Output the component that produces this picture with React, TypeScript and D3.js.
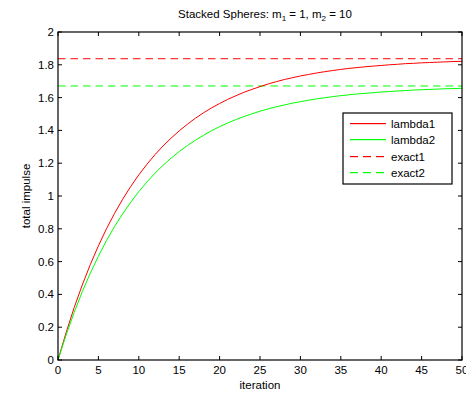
import React from "react";
import * as d3 from "d3";

const iterations = d3.range(0, 51);
const lambda1 = [0, 0.167, 0.319, 0.457, 0.582, 0.696, 0.800, 0.894, 0.980, 1.058, 1.129, 1.193, 1.252, 1.305, 1.353, 1.397, 1.437, 1.474, 1.507, 1.537, 1.564, 1.589, 1.611, 1.632, 1.650, 1.667, 1.683, 1.697, 1.710, 1.721, 1.732, 1.741, 1.750, 1.758, 1.765, 1.772, 1.778, 1.783, 1.788, 1.792, 1.796, 1.800, 1.803, 1.807, 1.809, 1.812, 1.814, 1.816, 1.818, 1.820, 1.821];
const lambda2 = [0, 0.152, 0.290, 0.416, 0.530, 0.633, 0.728, 0.814, 0.891, 0.962, 1.027, 1.085, 1.139, 1.187, 1.231, 1.271, 1.307, 1.340, 1.370, 1.398, 1.423, 1.445, 1.466, 1.484, 1.501, 1.517, 1.531, 1.544, 1.555, 1.566, 1.575, 1.584, 1.592, 1.599, 1.606, 1.612, 1.617, 1.622, 1.626, 1.630, 1.634, 1.637, 1.640, 1.643, 1.646, 1.648, 1.650, 1.652, 1.654, 1.655, 1.657];
const exact1 = 1.837;
const exact2 = 1.671;
const xTicks = [0, 5, 10, 15, 20, 25, 30, 35, 40, 45, 50];
const yTicks = [0, 0.2, 0.4, 0.6, 0.8, 1, 1.2, 1.4, 1.6, 1.8, 2];
const legendLabels = ["lambda1", "lambda2", "exact1", "exact2"];

const RED = "#ff0000";
const GREEN = "#00ff00";
const FONT = "'Liberation Sans', Arial, Helvetica, sans-serif";

export default function App() {
  const W = 466, H = 396;
  const L = 58, R = 462, T = 32, B = 360;
  const x = d3.scaleLinear().domain([0, 50]).range([L, R]);
  const y = d3.scaleLinear().domain([0, 2]).range([B, T]);
  const line = d3.line<number>().x((_, i) => x(iterations[i])).y((d) => y(d));
  const tl = 4;
  const legendColors = [RED, GREEN, RED, GREEN];
  const legendDashed = [false, false, true, true];
  const legendRows = [123, 139, 156, 172];
  const lgX = 343, lgY = 113, lgW = 109, lgH = 71;
  return (
    <svg width={W} height={H} style={{ position: "absolute", left: 0, top: 0, background: "#fff" }} fontFamily={FONT}>
      <rect x={0} y={0} width={W} height={H} fill="#fff" />
      <line x1={L} x2={R} y1={y(exact1)} y2={y(exact1)} stroke={RED} strokeWidth={1} strokeDasharray="7.5,5" />
      <line x1={L} x2={R} y1={y(exact2)} y2={y(exact2)} stroke={GREEN} strokeWidth={1} strokeDasharray="7.5,5" />
      <path d={line(lambda1) || ""} fill="none" stroke={RED} strokeWidth={1} />
      <path d={line(lambda2) || ""} fill="none" stroke={GREEN} strokeWidth={1} />
      {xTicks.map((t) => (
        <g key={"x" + t}>
          <line x1={x(t)} x2={x(t)} y1={B} y2={B - tl} stroke="#000" />
          <line x1={x(t)} x2={x(t)} y1={T} y2={T + tl} stroke="#000" />
          <text x={x(t)} y={374} fontSize={11.5} textAnchor="middle" fill="#000">{t}</text>
        </g>
      ))}
      {yTicks.map((t) => (
        <g key={"y" + t}>
          <line x1={L} x2={L + tl} y1={y(t)} y2={y(t)} stroke="#000" />
          <line x1={R} x2={R - tl} y1={y(t)} y2={y(t)} stroke="#000" />
          <text x={54} y={y(t) + 4} fontSize={11.5} textAnchor="end" fill="#000">{String(t)}</text>
        </g>
      ))}
      <rect x={L} y={T} width={R - L} height={B - T} fill="none" stroke="#000" strokeWidth={1.2} />
      <text x={(L + R) / 2} y={389} fontSize={11.5} textAnchor="middle" fill="#000">iteration</text>
      <text transform={`translate(30,${(T + B) / 2}) rotate(-90)`} fontSize={11.5} textAnchor="middle" fill="#000">total impulse</text>
      <text x={(L + R) / 2 + 5} y={18} fontSize={11.5} textAnchor="middle" fill="#000">
        Stacked Spheres: m<tspan fontSize={8} dy={3}>1</tspan><tspan dy={-3}> = 1, m</tspan><tspan fontSize={8} dy={3}>2</tspan><tspan dy={-3}> = 10</tspan>
      </text>
      <rect x={lgX} y={lgY} width={lgW} height={lgH} fill="#fff" stroke="#000" strokeWidth={1.2} />
      {legendLabels.map((lab, i) => {
        const ry = legendRows[i];
        return (
          <g key={lab}>
            {legendDashed[i]
              ? [0, 1, 2].map((k) => (
                  <rect key={k} x={350 + k * 13} y={ry} width={8} height={1.2} fill={legendColors[i]} />
                ))
              : <rect x={350} y={ry} width={36} height={1.2} fill={legendColors[i]} />}
            <text x={391} y={ry + 4.5} fontSize={11.5} fill="#000">{lab}</text>
          </g>
        );
      })}
    </svg>
  );
}
